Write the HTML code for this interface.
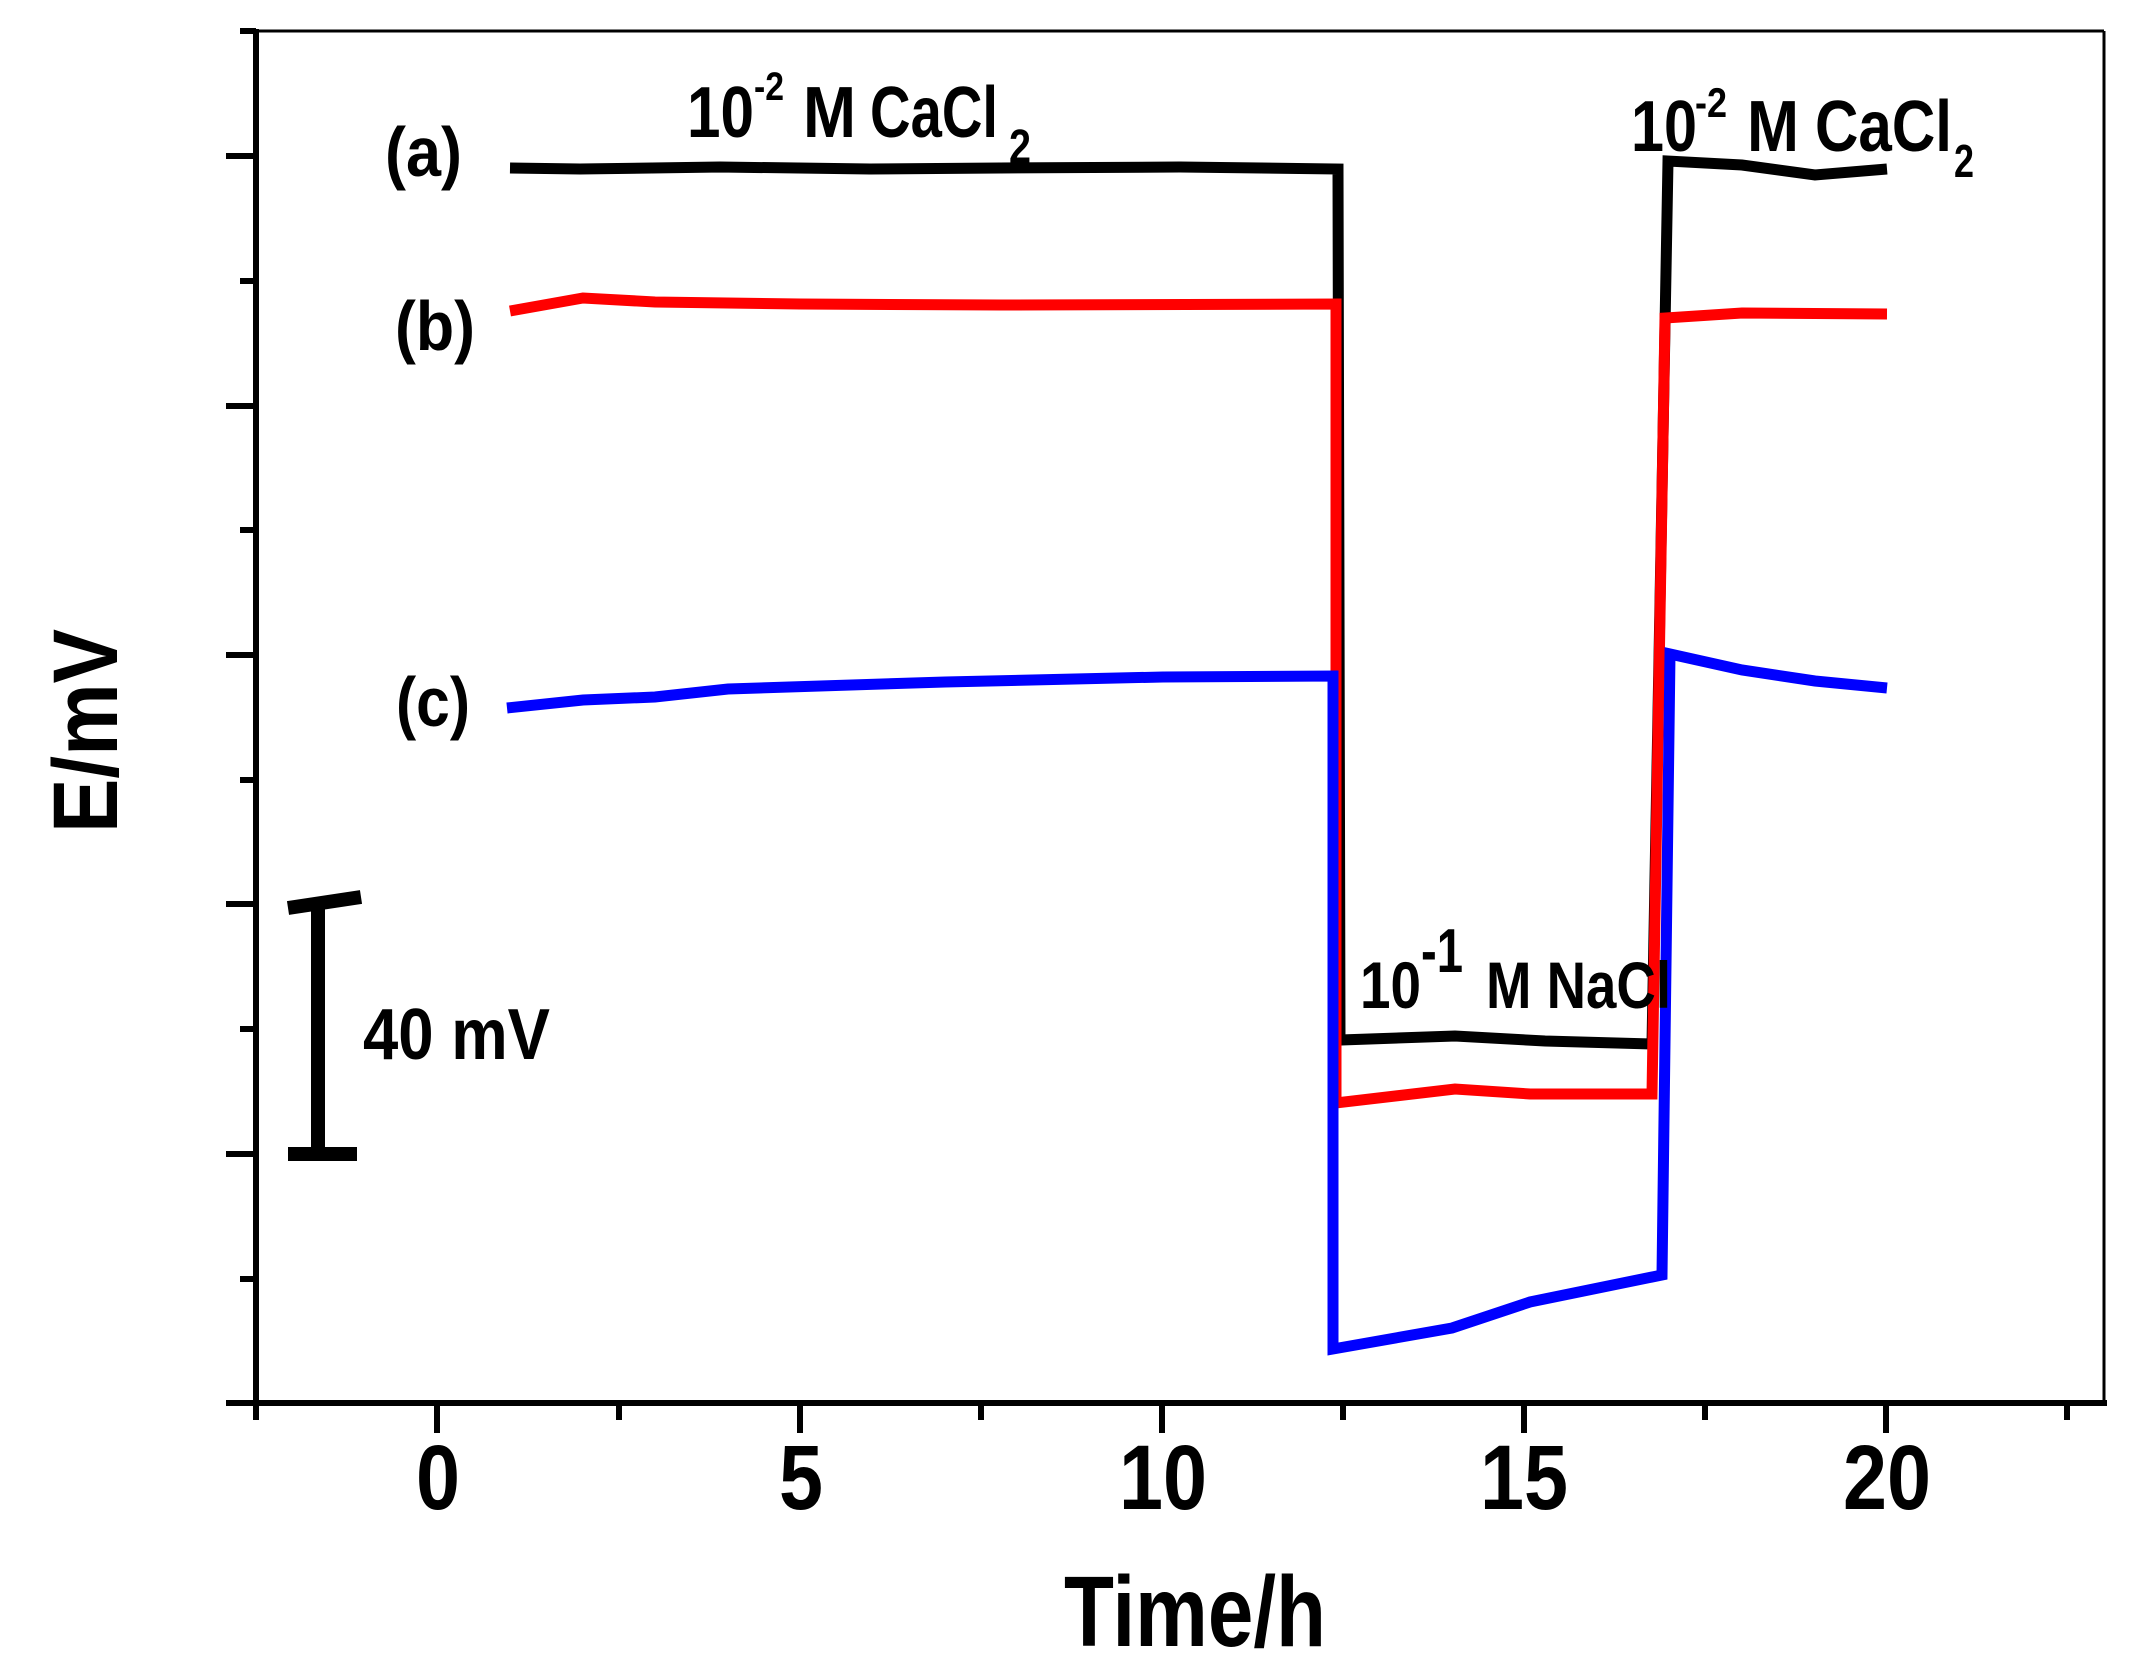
<!DOCTYPE html>
<html><head><meta charset="utf-8"><style>
html,body{margin:0;padding:0;background:#fff;}
svg{display:block;}
text{font-family:"Liberation Sans Narrow","Liberation Sans",sans-serif;font-weight:bold;fill:#000;}
</style></head><body>
<svg width="2152" height="1679" viewBox="0 0 2152 1679" xmlns="http://www.w3.org/2000/svg">
<rect width="2152" height="1679" fill="#fff"/>
<!-- frame -->
<line x1="256" y1="31" x2="2104" y2="31" stroke="#000" stroke-width="3"/>
<line x1="2104" y1="31" x2="2104" y2="1403" stroke="#000" stroke-width="3"/>
<line x1="256" y1="29" x2="256" y2="1406" stroke="#000" stroke-width="6"/>
<line x1="226" y1="1403" x2="2107" y2="1403" stroke="#000" stroke-width="6"/>
<!-- y ticks -->
<g stroke="#000" stroke-width="6">
<line x1="240" y1="31" x2="256" y2="31"/>
<line x1="226" y1="156" x2="256" y2="156"/>
<line x1="240" y1="281" x2="256" y2="281"/>
<line x1="226" y1="406" x2="256" y2="406"/>
<line x1="240" y1="530" x2="256" y2="530"/>
<line x1="226" y1="655" x2="256" y2="655"/>
<line x1="240" y1="780" x2="256" y2="780"/>
<line x1="226" y1="904" x2="256" y2="904"/>
<line x1="240" y1="1029" x2="256" y2="1029"/>
<line x1="226" y1="1154" x2="256" y2="1154"/>
<line x1="240" y1="1279" x2="256" y2="1279"/>
<!-- x ticks -->
<line x1="256" y1="1403" x2="256" y2="1420"/>
<line x1="437" y1="1403" x2="437" y2="1433"/>
<line x1="619" y1="1403" x2="619" y2="1420"/>
<line x1="800" y1="1403" x2="800" y2="1433"/>
<line x1="981" y1="1403" x2="981" y2="1420"/>
<line x1="1162" y1="1403" x2="1162" y2="1433"/>
<line x1="1343" y1="1403" x2="1343" y2="1420"/>
<line x1="1524" y1="1403" x2="1524" y2="1433"/>
<line x1="1705" y1="1403" x2="1705" y2="1420"/>
<line x1="1886" y1="1403" x2="1886" y2="1433"/>
<line x1="2067" y1="1403" x2="2067" y2="1420"/>
</g>
<!-- tick labels -->
<g font-size="92" text-anchor="middle">
<text x="438" y="1509" textLength="44" lengthAdjust="spacingAndGlyphs">0</text>
<text x="801" y="1509" textLength="44" lengthAdjust="spacingAndGlyphs">5</text>
<text x="1163" y="1509" textLength="88" lengthAdjust="spacingAndGlyphs">10</text>
<text x="1524" y="1509" textLength="88" lengthAdjust="spacingAndGlyphs">15</text>
<text x="1887" y="1509" textLength="88" lengthAdjust="spacingAndGlyphs">20</text>
</g>
<text x="1195" y="1646" font-size="100" text-anchor="middle" textLength="262" lengthAdjust="spacingAndGlyphs">Time/h</text>
<text transform="translate(117,731) rotate(-90)" font-size="92" text-anchor="middle" textLength="204" lengthAdjust="spacingAndGlyphs">E/mV</text>
<!-- series -->
<g fill="none" stroke-linejoin="miter">
<polyline stroke="#000" stroke-width="11" points="510,168 580,169 720,167 870,169 1000,168 1180,167 1338,169 1340,1040 1455,1036 1545,1041 1652,1044 1668,161 1742,165 1815,175 1887,169"/>
<polyline stroke="#ff0000" stroke-width="11" points="510,311 583,298 655,302 800,304 1000,305 1336,304 1336,1103 1455,1089 1530,1094 1652,1094 1665,318 1742,313 1887,314"/>
<polyline stroke="#0000ff" stroke-width="11" points="507,708 583,700 655,697 728,689 945,682 1163,677 1333,676 1333,1349 1452,1328 1530,1302 1662,1275 1670,654 1742,670 1815,681 1887,688"/>
</g>
<!-- labels -->
<g font-size="70">
<text x="385" y="176" textLength="77" lengthAdjust="spacingAndGlyphs">(a)</text>
<text x="395" y="350" textLength="80" lengthAdjust="spacingAndGlyphs">(b)</text>
<text x="396" y="726" textLength="74" lengthAdjust="spacingAndGlyphs">(c)</text>
</g>
<!-- top-left label -->
<text x="687" y="137" font-size="72" textLength="67" lengthAdjust="spacingAndGlyphs">10</text>
<text x="754" y="100" font-size="40" textLength="30" lengthAdjust="spacingAndGlyphs">-2</text>
<text x="803" y="137" font-size="72" textLength="53" lengthAdjust="spacingAndGlyphs">M</text>
<text x="870" y="137" font-size="72" textLength="128" lengthAdjust="spacingAndGlyphs">CaCl</text>
<text x="1009" y="163" font-size="48" textLength="22" lengthAdjust="spacingAndGlyphs">2</text>
<!-- top-right label -->
<text x="1631" y="151" font-size="72" textLength="66" lengthAdjust="spacingAndGlyphs">10</text>
<text x="1695" y="117" font-size="42" textLength="32" lengthAdjust="spacingAndGlyphs">-2</text>
<text x="1747" y="151" font-size="72" textLength="52" lengthAdjust="spacingAndGlyphs">M</text>
<text x="1815" y="151" font-size="72" textLength="137" lengthAdjust="spacingAndGlyphs">CaCl</text>
<text x="1954" y="177" font-size="46" textLength="20" lengthAdjust="spacingAndGlyphs">2</text>
<!-- NaCl label -->
<text x="1360" y="1008" font-size="66" textLength="61" lengthAdjust="spacingAndGlyphs">10</text>
<text x="1421" y="972" font-size="62" textLength="42" lengthAdjust="spacingAndGlyphs">-1</text>
<text x="1486" y="1008" font-size="66" textLength="185" lengthAdjust="spacingAndGlyphs">M NaCl</text>
<!-- scale bar -->
<line x1="318" y1="903" x2="318" y2="1154" stroke="#000" stroke-width="14"/>
<line x1="288" y1="908" x2="361" y2="897" stroke="#000" stroke-width="14"/>
<line x1="288" y1="1154" x2="357" y2="1154" stroke="#000" stroke-width="14"/>
<text x="363" y="1059" font-size="72" textLength="187" lengthAdjust="spacingAndGlyphs">40 mV</text>
</svg>
</body></html>
